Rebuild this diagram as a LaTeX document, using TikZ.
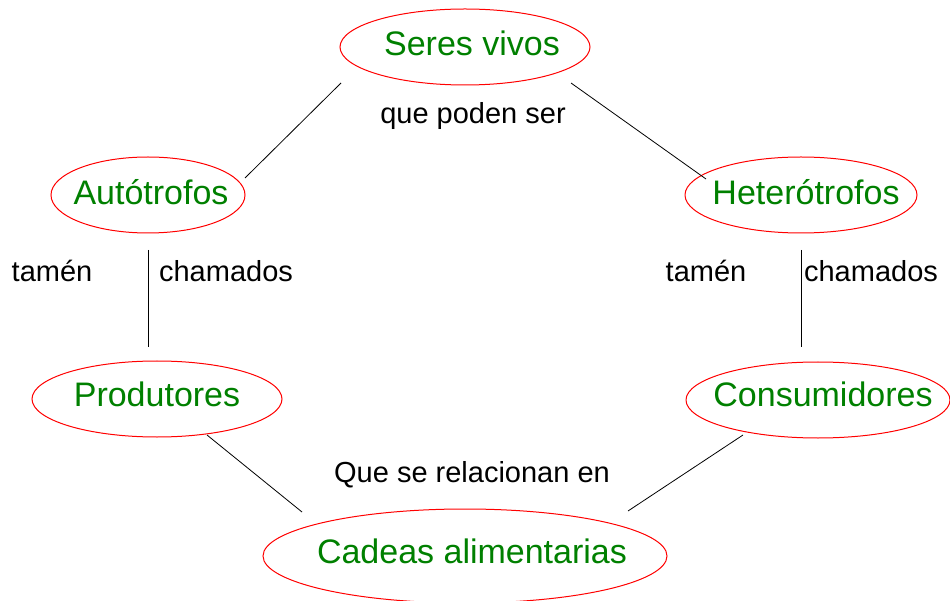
\documentclass[tikz,border=0pt]{standalone}
\usepackage{fontspec}
\setmainfont{Liberation Sans}
\usepackage{tikz}
\definecolor{termgreen}{RGB}{0,128,0}

\tikzset{
  oval/.style={draw=red, line width=1pt},
  term/.style={anchor=base, inner sep=0pt, text=termgreen, font=\fontsize{34}{40}\selectfont},
  linkword/.style={anchor=base, inner sep=0pt, font=\fontsize{29}{34}\selectfont},
  conn/.style={line width=0.8pt}
}

\begin{document}
\begin{tikzpicture}[x=1pt, y=-1pt]
  \useasboundingbox (0,0) rectangle (950,601);

  \draw[oval] (465,47) ellipse [x radius=125pt, y radius=38pt];
  \draw[oval] (148,195) ellipse [x radius=97pt, y radius=38pt];
  \draw[oval] (801,195) ellipse [x radius=116pt, y radius=38pt];
  \draw[oval] (157,399) ellipse [x radius=125pt, y radius=38pt];
  \draw[oval] (818,400) ellipse [x radius=132pt, y radius=38pt];
  \draw[oval] (465,556) ellipse [x radius=202pt, y radius=47pt];

  \node[term] (seres) at (472,56) {Seres vivos};
  \node[term] (auto) at (151,205) {Autótrofos};
  \node[term] (hetero) at (806,205) {Heterótrofos};
  \node[term] (prod) at (157,406) {Produtores};
  \node[term] (cons) at (823,406) {Consumidores};
  \node[term] (cadeas) at (472,563) {Cadeas alimentarias};

  \node[linkword] (poden) at (473,124) {que poden ser};
  \node[linkword] (tamenL) at (52,282) {tamén};
  \node[linkword] (chamL) at (226,282) {chamados};
  \node[linkword] (tamenR) at (706,282) {tamén};
  \node[linkword] (chamR) at (871,282) {chamados};
  \node[linkword] (relac) at (472,482) {Que se relacionan en};

  \coordinate (seres-l) at (341,83);
  \coordinate (auto-r) at (245,178);
  \coordinate (seres-r) at (571,83);
  \coordinate (hetero-l) at (706,179);
  \coordinate (auto-b) at (148,250);
  \coordinate (prod-t) at (148,347);
  \coordinate (hetero-b) at (801,250);
  \coordinate (cons-t) at (801,347);
  \coordinate (prod-b) at (207,435);
  \coordinate (cadeas-l) at (302,512);
  \coordinate (cons-b) at (743,435);
  \coordinate (cadeas-r) at (628,511);

  \draw[conn] (seres-l) -- (auto-r);
  \draw[conn] (seres-r) -- (hetero-l);
  \draw[conn] (auto-b) -- (prod-t);
  \draw[conn] (hetero-b) -- (cons-t);
  \draw[conn] (prod-b) -- (cadeas-l);
  \draw[conn] (cons-b) -- (cadeas-r);
\end{tikzpicture}
\end{document}
